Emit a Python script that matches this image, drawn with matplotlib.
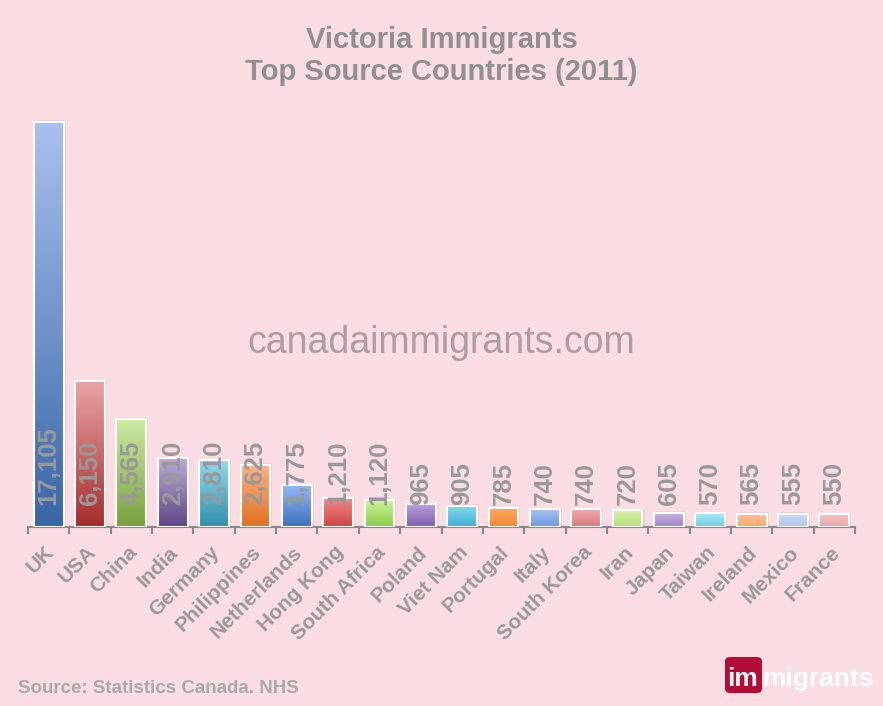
import numpy as np
import matplotlib
matplotlib.use("Agg")
from matplotlib import pyplot as plt
from matplotlib.patches import Rectangle, FancyBboxPatch
from matplotlib.colors import LinearSegmentedColormap
from matplotlib.transforms import ScaledTranslation

countries = ["UK", "USA", "China", "India", "Germany", "Philippines", "Netherlands",
             "Hong Kong", "South Africa", "Poland", "Viet Nam", "Portugal", "Italy",
             "South Korea", "Iran", "Japan", "Taiwan", "Ireland", "Mexico", "France"]
immigrants = [17105, 6150, 4565, 2910, 2810, 2625, 1775, 1210, 1120, 965, 905, 785,
              740, 740, 720, 605, 570, 565, 555, 550]
# (top colour, bottom colour) of each bar's gradient
bar_colors = [("#a9c1ee", "#3866a6"), ("#e8a4a4", "#a62c2c"), ("#cfeaa2", "#76a03c"),
              ("#bcaadb", "#5e4686"), ("#93d9ee", "#2e8fa8"), ("#ffb386", "#e0701e"),
              ("#95bbf3", "#3d6fc0"), ("#f28a8a", "#d04242"), ("#cdf29a", "#8ccc4c"),
              ("#b7a0dc", "#7d5cae"), ("#88dbf2", "#3eafd0"), ("#ffa864", "#f28a30"),
              ("#a6c4f2", "#6e96d8"), ("#f2a8a8", "#d87a7a"), ("#dcf2a6", "#b6de7e"),
              ("#cbb6e2", "#9e86c6"), ("#a6eaf8", "#6ecee6"), ("#ffc394", "#ffa66e"),
              ("#cddcf8", "#b0c6ef"), ("#f2c4c4", "#e8a8a8")]

bg = "#f9dde2"
grey = "#999999"
font = "Liberation Sans"

fig = plt.figure(figsize=(8.83, 7.06), dpi=100, facecolor=bg)
ax = fig.add_axes([28 / 883, 179 / 706, (855 - 28) / 883, 417 / 706])
ax.set_facecolor(bg)

w = 0.72
grad = np.linspace(1, 0, 256).reshape(-1, 1)
for i, (v, (top, bot)) in enumerate(zip(immigrants, bar_colors)):
    x0 = i - w / 2
    # soft shadow
    ax.add_patch(Rectangle((x0 + 0.05, 0), w, v + 60, facecolor="#000000",
                           alpha=0.06, edgecolor="none", zorder=1))
    cmap = LinearSegmentedColormap.from_list("g%d" % i, [bot, top])
    ax.imshow(grad, extent=(x0, x0 + w, 0, v), aspect="auto", cmap=cmap,
              origin="upper", zorder=2, interpolation="bicubic")
    ax.add_patch(Rectangle((x0, 0), w, v, facecolor="none", edgecolor="white",
                           linewidth=1.5, zorder=3))
    ax.text(i, 930, f"{v:,}", rotation=90, ha="center", va="bottom", fontsize=18.5,
            fontweight="bold", color=grey, family=font, zorder=4)

ax.set_xlim(-0.5, len(countries) - 0.5)
ax.set_ylim(0, 17600)
for s in ["top", "right", "left"]:
    ax.spines[s].set_visible(False)
ax.spines["bottom"].set_color("#888888")
ax.spines["bottom"].set_linewidth(1.5)
ax.set_yticks([])
ax.set_xticks(range(len(countries)))
ax.set_xticklabels(countries, rotation=45, ha="right", rotation_mode="anchor",
                   fontsize=15, fontweight="bold", color=grey, family=font)
ax.set_xticks(np.arange(-0.5, len(countries)), minor=True)
ax.tick_params(axis="x", which="major", length=0, pad=12)
ax.tick_params(axis="x", which="minor", length=5, width=1.5, color="#888888")
shift = ScaledTranslation(-4 / 100, 1 / 100, fig.dpi_scale_trans)
for lab in ax.get_xticklabels():
    lab.set_transform(lab.get_transform() + shift)

fig.text(0.5, 1 - 26 / 706, "Victoria Immigrants\nTop Source Countries (2011)",
         ha="center", va="top", fontsize=21, fontweight="bold", color="#909090",
         family=font, linespacing=1.2)
fig.text(0.5, 1 - 353 / 706, "canadaimmigrants.com", ha="center", va="baseline",
         fontsize=27, color="#ad9ca1", family=font)
fig.text(18 / 883, 1 - 693 / 706, "Source: Statistics Canada. NHS", ha="left",
         va="baseline", fontsize=13.5, fontweight="bold", color="#aaaaaa", family=font)

# logo
fig.patches.append(FancyBboxPatch((725 / 883, 1 - 693 / 706), 37 / 883, 36 / 706,
                                  boxstyle="round,pad=0,rounding_size=0.006",
                                  transform=fig.transFigure, facecolor="#b30d35",
                                  edgecolor="none"))
fig.text(727 / 883, 1 - 686 / 706, "im", ha="left", va="baseline", fontsize=19,
         fontweight="bold", color="white", family=font)
fig.text(762 / 883, 1 - 686 / 706, "migrants", ha="left", va="baseline", fontsize=19,
         fontweight="bold", color="white", family=font)

plt.savefig("out.png", dpi=100, facecolor=bg)
